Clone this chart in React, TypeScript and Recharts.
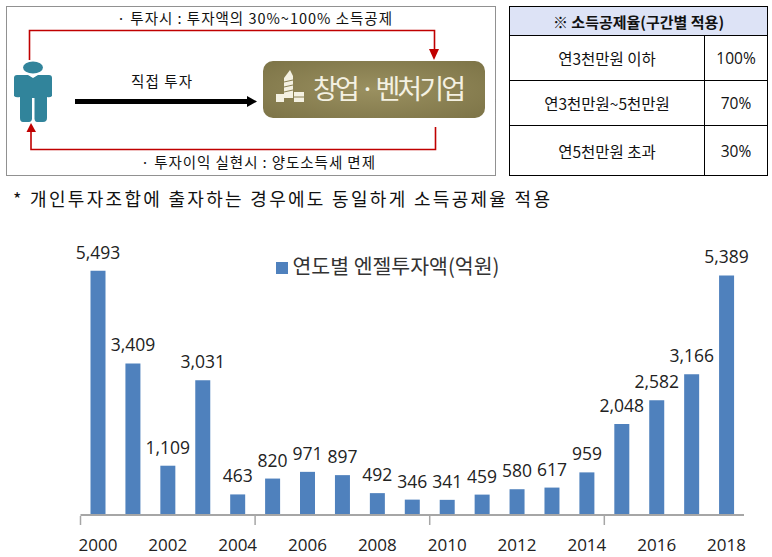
import React from "react";
import { BarChart, Bar, XAxis, YAxis, LabelList, Legend } from "recharts";

const years = ["2000", "2001", "2002", "2003", "2004", "2005", "2006", "2007", "2008", "2009", "2010", "2011", "2012", "2013", "2014", "2015", "2016", "2017", "2018"];
const amounts = [5493, 3409, 1109, 3031, 463, 820, 971, 897, 492, 346, 341, 459, 580, 617, 959, 2048, 2582, 3166, 5389];
const seriesName = "연도별 엔젤투자액(억원)";

const rateRows = [
  ["연3천만원 이하", "100%"],
  ["연3천만원~5천만원", "70%"],
  ["연5천만원 초과", "30%"],
];

const chartData = years.map((year, i) => ({ year, amount: amounts[i] }));

const KR = '"Noto Sans CJK KR", "Noto Sans", sans-serif';
const LATIN = '"Open Sans", "Noto Sans", sans-serif';
const BAND = (772 - 80.5 - 28) / years.length;

const YearTick = (props: any) => {
  const { x, y, index, payload } = props;
  return (
    <g>
      {index % 5 === 0 && (
        <line x1={x - BAND / 2} x2={x - BAND / 2} y1={y - 7} y2={y + 2} stroke="#a6a6a6" strokeWidth={1.5} />
      )}
      {index % 2 === 0 && (
        <text x={x} y={y + 28} textAnchor="middle" fontSize={17} fontFamily={LATIN} fill="#222">
          {payload.value}
        </text>
      )}
    </g>
  );
};

const Diagram = () => (
  <svg width={772} height={215} style={{ position: "absolute", left: 0, top: 0 }}>
    <defs>
      <radialGradient id="gold" cx="50%" cy="50%" r="65%">
        <stop offset="0%" stopColor="#9a9060" />
        <stop offset="100%" stopColor="#7f7649" />
      </radialGradient>
    </defs>
    <rect x={6.5} y={6.5} width={489} height={169} fill="none" stroke="#222" strokeDasharray="1 1" />

    <polyline points="29.5,60 29.5,30.5 434.5,30.5 434.5,50" fill="none" stroke="#c00000" strokeWidth={1.6} />
    <polygon points="429,49 439,49 434,60" fill="#c00000" />
    <polyline points="435.5,127 435.5,149.5 31,149.5 31,131" fill="none" stroke="#c00000" strokeWidth={1.6} />
    <polygon points="26.5,132 36,132 31,123" fill="#c00000" />

    <rect x={75} y={99} width={174} height={5} fill="#000" />
    <polygon points="247,96 257,101.5 247,107" fill="#000" />

    <ellipse cx={33} cy={67.5} rx={10} ry={6} fill="#31849b" />
    <path d="M17 75 L28 75 L33 78 L38 75 L49 75 Q52 75 52 78 L52 96 Q50 98 47 97 L47 118 Q47 122 43 122 L37 122 Q35 122 34.5 119 L34.5 98 L32 98 L32 119 Q31.5 122 29 122 L23 122 Q20 122 20 118 L20 97 Q16 98 14 96 L14 78 Q14 75 17 75 Z" fill="#31849b" />

    <rect x={263} y={61} width={222} height={57} rx={10} fill="url(#gold)" />
    <g fill="#f4f1e2">
      <polygon points="284,78 290,70 293,76 293,98 284,98" />
      <rect x={276} y={94} width={8} height={8} />
      <rect x={294} y={92} width={10} height={10} />
    </g>
    <g stroke="#8a8155" strokeWidth={1}>
      <line x1={284} x2={293} y1={82} y2={80} />
      <line x1={284} x2={293} y1={87} y2={85} />
      <line x1={284} x2={293} y1={92} y2={90} />
      <line x1={294} x2={304} y1={97} y2={97} />
    </g>
    <text x={313} y={99} fontSize={27} fontFamily={KR} fill="#f4f1e2" textLength={153}>창업 · 벤처기업</text>

    <g fontFamily={KR} fill="#111" fontSize={14.5}>
      <text x={117} y={24} textLength={275}>· 투자시 : 투자액의 30%~100% 소득공제</text>
      <text x={131} y={87} textLength={61}>직접 투자</text>
      <text x={141} y={168} textLength={234}>· 투자이익 실현시 : 양도소득세 면제</text>
    </g>
    <text x={13} y={206} fontFamily={KR} fontSize={18} fill="#111" textLength={537}>* 개인투자조합에 출자하는 경우에도 동일하게 소득공제율 적용</text>
  </svg>
);

const rowHeights = [45, 45, 50];

const RateTable = () => (
  <table
    style={{
      position: "absolute",
      left: 509,
      top: 6,
      width: 258,
      height: 170,
      borderCollapse: "collapse",
      fontFamily: KR,
      fontSize: 15.5,
      color: "#111",
      tableLayout: "fixed",
    }}
  >
    <colgroup>
      <col style={{ width: 195 }} />
      <col style={{ width: 63 }} />
    </colgroup>
    <tbody>
      <tr style={{ height: 29 }}>
        <td colSpan={2} style={{ border: "1px solid #000", background: "#dde3f6", textAlign: "center", padding: 0, fontWeight: 700, fontSize: 15 }}>
          ※ 소득공제율(구간별 적용)
        </td>
      </tr>
      {rateRows.map((row, i) => (
        <tr key={row[0]} style={{ height: rowHeights[i] }}>
          <td style={{ border: "1px solid #000", textAlign: "center", padding: 0 }}>{row[0]}</td>
          <td style={{ border: "1px solid #000", textAlign: "center", padding: 0, fontFamily: LATIN, fontSize: 15.5 }}>{row[1]}</td>
        </tr>
      ))}
    </tbody>
  </table>
);

const App = () => (
  <div style={{ position: "absolute", left: 0, top: 0, width: 772, height: 557, background: "#fff", overflow: "hidden" }}>
    <Diagram />
    <RateTable />
    <div style={{ position: "absolute", left: 0, top: 230 }}>
      <BarChart width={772} height={327} data={chartData} margin={{ top: 17, right: 28, bottom: 0, left: 80.5 }} barCategoryGap={0}>
        <XAxis
          dataKey="year"
          interval={0}
          height={42}
          tickLine={false}
          axisLine={{ stroke: "#a6a6a6", strokeWidth: 2 }}
          tick={<YearTick />}
        />
        <YAxis hide domain={[0, 6030]} />
        <Legend
          layout="horizontal"
          verticalAlign="middle"
          align="center"
          iconType="square"
          iconSize={12}
          wrapperStyle={{ left: 268, top: 20, width: 250, fontFamily: KR, fontSize: 20.5 }}
          formatter={(value: string) => <span style={{ color: "#333" }}>{value}</span>}
        />
        <Bar dataKey="amount" name={seriesName} fill="#4f81bd" barSize={15} isAnimationActive={false}>
          <LabelList
            dataKey="amount"
            position="top"
            offset={12}
            formatter={(v: number) => v.toLocaleString("en-US")}
            style={{ fontFamily: LATIN, fontSize: 17.5, fill: "#222" }}
          />
        </Bar>
      </BarChart>
    </div>
  </div>
);

export default App;
